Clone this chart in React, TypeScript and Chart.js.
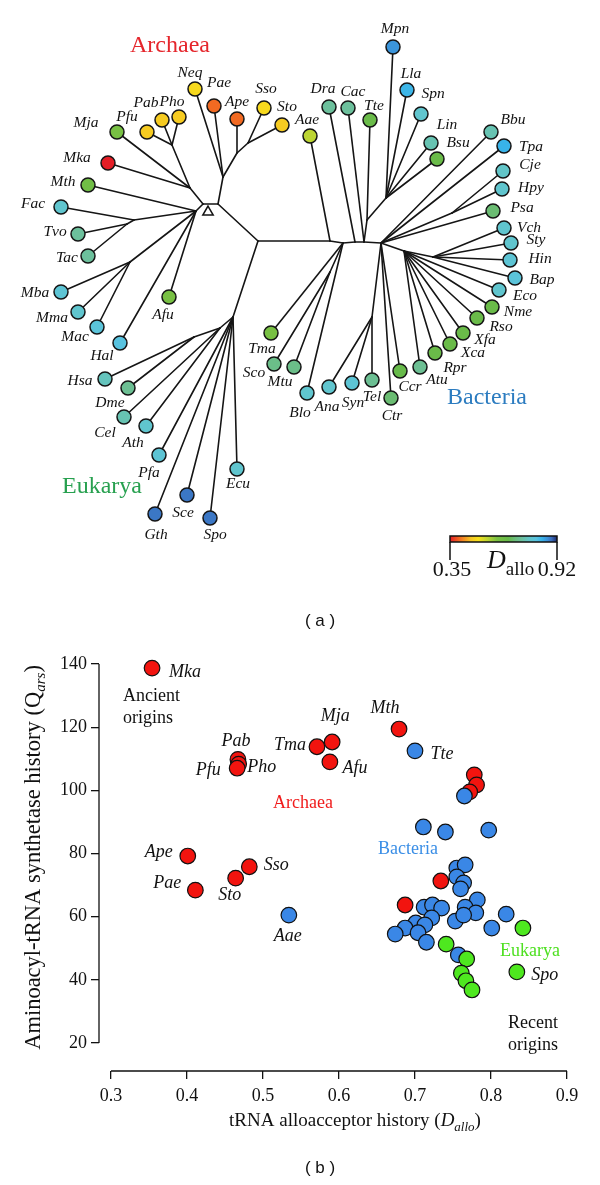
import React, { useEffect, useRef } from "react";
import { Chart, registerables } from "chart.js";
Chart.register(...registerables);

const SERIF = '"Liberation Serif", "DejaVu Serif", serif';
const SANS = '"Liberation Sans", Arial, sans-serif';

// ================= Panel (a): tree (layout units) =================
const leafNames = ["Neq","Pae","Ape","Sso","Sto","Pho","Pab","Pfu","Mja","Mka","Mth","Fac","Tvo","Tac","Mba","Mma","Mac","Hal","Afu",
  "Hsa","Dme","Cel","Ath","Pfa","Gth","Sce","Spo","Ecu",
  "Tma","Sco","Mtu","Blo","Ana","Syn","Tel","Ctr","Ccr","Atu","Rpr","Xca","Xfa","Rso","Nme","Eco","Bap","Hin","Sty","Vch","Psa","Hpy","Cje","Tpa","Bbu","Bsu","Lin","Spn","Lla","Mpn","Tte","Cac","Dra","Aae"];
const leafX = [195,214,237,264,282,179,162,147,117,108,88,61,78,88,61,78,97,120,169,
  105,128,124,146,159,155,187,210,237,
  271,274,294,307,329,352,372,391,400,420,435,450,463,477,492,499,515,510,511,504,493,502,503,504,491,437,431,421,407,393,370,348,329,310];
const leafY = [89,106,119,108,125,117,120,132,132,163,185,207,234,256,292,312,327,343,297,
  379,388,417,426,455,514,495,518,469,
  333,364,367,393,387,383,380,398,371,367,353,344,333,318,307,290,278,260,243,228,211,189,171,146,132,159,143,114,90,47,120,108,107,136];
const leafDallo = [0.49,0.40,0.40,0.49,0.47,0.47,0.47,0.47,0.61,0.35,0.63,0.78,0.73,0.73,0.79,0.78,0.80,0.81,0.61,
  0.76,0.72,0.75,0.78,0.79,0.885,0.885,0.885,0.78,
  0.61,0.71,0.71,0.78,0.78,0.79,0.72,0.69,0.66,0.72,0.65,0.65,0.65,0.65,0.65,0.78,0.80,0.79,0.78,0.78,0.69,0.78,0.77,0.84,0.75,0.65,0.75,0.78,0.835,0.865,0.65,0.73,0.73,0.55];
// label placement relative to each leaf (px)
const leafLabelDx = [-5,5,0,2,5,-7,-16,-20,-31,-31,-25,-28,-23,-21,-26,-26,-22,-18,-6,
  -25,-18,-19,-13,-10,1,-4,5,1,
  -9,-20,-14,-7,-2,1,0,1,10,17,20,23,22,24,26,26,27,30,25,25,29,29,27,27,22,21,16,12,4,2,4,5,-6,-3];
const leafLabelDy = [-16,-23,-17,-19,-18,-15,-17,-15,-9,-5,-3,-3,-2,2,1,6,10,13,18,
  2,15,16,17,18,21,18,17,15,
  16,9,15,20,20,20,17,18,16,13,15,9,7,9,5,6,2,-1,-3,0,-3,-1,-6,1,-12,-16,-18,-20,-16,-18,-14,-16,-18,-16];

const nodeNames = ["R","AT","AL","n1","nApe","n2","nL1","nPyro","Ac","nFac","nTT","nMM","E","nE1","nHD",
  "B1","B2","nAct","B3","B4","nTF","nFirm","B5","nEps","nProt","nEnt","nCy"];
const nodeX = [258,218,203,223,237,248,190,172,196,134,127,130,233,220,194,330,343,330,355,364,367,386,381,452,404,433,372];
const nodeY = [241,204,204,177,153,143,188,145,211,220,224,262,317,328,337,241,243,272,242,242,220,198,243,213,251,257,317];
const rootMarkX = [208];
const rootMarkY = [212];

const edgeParent = ["R","AT","AT","n1","n1","n1","nApe","nApe","n2","n2",
  "AL","nL1","nL1","nPyro","nPyro","nPyro","nL1",
  "AL","Ac","Ac","nFac","nFac","nTT","nTT","Ac","nMM","nMM","nMM","Ac","Ac",
  "R","E","nE1","nHD","nHD","nE1","nE1","E","E","E","E","E",
  "R","B1","B1","B2","B2","nAct","nAct","B2","B2","B3","B3","B4","B4","nTF","nTF","nFirm","nFirm","nFirm","nFirm","nFirm","B4",
  "B5","B5","B5","nEps","nEps","B5","B5","nProt","nEnt","nEnt","nEnt","nEnt","nProt","nProt","nProt","nProt","nProt","nProt","nProt","B5","B5","B5","nCy","nCy","nCy"];
const edgeChild = ["AT","AL","n1","Neq","Pae","nApe","Ape","n2","Sso","Sto",
  "nL1","Mja","nPyro","Pfu","Pab","Pho","Mka",
  "Ac","Mth","nFac","Fac","nTT","Tvo","Tac","nMM","Mba","Mma","Mac","Hal","Afu",
  "E","nE1","nHD","Hsa","Dme","Cel","Ath","Pfa","Gth","Sce","Spo","Ecu",
  "B1","Aae","B2","Tma","nAct","Sco","Mtu","Blo","B3","Dra","B4","Cac","nTF","Tte","nFirm","Mpn","Lla","Spn","Lin","Bsu","B5",
  "Bbu","Tpa","nEps","Cje","Hpy","Psa","nProt","nEnt","Vch","Sty","Hin","Bap","Eco","Nme","Rso","Xfa","Xca","Rpr","Atu","Ccr","Ctr","nCy","Ana","Syn","Tel"];

const treeTitleNames = ["Archaea", "Bacteria", "Eukarya"];
const treeTitleX = [170, 487, 102];
const treeTitleY = [46, 398, 487];
const treeTitleColors = ["#e5262c", "#2c7cc0", "#27a04f"];

// colour scale for D_allo
const cmapD = [0.35, 0.40, 0.46, 0.50, 0.55, 0.60, 0.66, 0.70, 0.73, 0.77, 0.81, 0.84, 0.87, 0.89, 0.92];
const cmapColors = ["#e41e26","#f26a22","#f5c423","#f7e01c","#bcd532","#7bc142","#67ba4a","#6bbd80","#6cc09c","#62c5c8","#58c3e0","#38b3ea","#3b8fd8","#3b6fbf","#1f2c6c"];
const cbarTicks = [0.35, 0.92];

// ================= Panel (b): scatter =================
const archaeaNames = ["Mka","Pab","Pho","Pfu","Tma","Mja","Afu","Mth","Ape","Sso","Sto","Pae","","","","",""];
const archaeaDallo = [0.354,0.467,0.468,0.466,0.571,0.591,0.588,0.679,0.401,0.482,0.464,0.411,0.778,0.781,0.772,0.734,0.687];
const archaeaQars = [138.7,109.8,108.3,107.0,113.8,115.3,109.0,119.4,79.2,75.8,72.2,68.4,104.9,101.7,99.5,71.3,63.7];

const bacteriaNames = ["Tte","Aae","","","","","","","","","","","","","","","","","","","","","","","","","","",""];
const bacteriaDallo = [0.700,0.534,0.765,0.711,0.740,0.797,0.755,0.766,0.755,0.764,0.760,0.782,0.766,0.780,0.712,0.723,0.735,0.722,0.753,0.764,0.701,0.713,0.687,0.674,0.704,0.715,0.801,0.820,0.757];
const bacteriaQars = [112.5,60.5,98.2,88.4,86.8,87.4,75.4,76.4,72.6,70.7,68.8,65.3,63.0,61.2,63.0,63.7,62.7,59.6,58.6,60.5,58.0,57.4,56.4,54.5,54.9,51.9,56.4,60.8,47.9];

const eukaryaNames = ["","","","Spo","","",""];
const eukaryaDallo = [0.741,0.768,0.842,0.834,0.761,0.767,0.775];
const eukaryaQars = [51.3,46.6,56.4,42.5,42.1,39.7,36.8];

const xTicks = [0.3, 0.4, 0.5, 0.6, 0.7, 0.8, 0.9];
const yTicks = [20, 40, 60, 80, 100, 120, 140];

// label offsets for named points (px)
const ptLabelNames = ["Mka","Pab","Pfu","Pho","Tma","Mja","Afu","Mth","Tte","Ape","Sso","Pae","Sto","Aae","Spo"];
const ptLabelDx = [33,-2,-29,23,-27,3,25,-14,27,-29,27,-28,-6,-1,28];
const ptLabelDy = [4,-18,2,3,-1,-26,6,-21,3,-4,-1,-7,17,21,3];

// annotations in data coordinates
const annoText = ["Archaea", "Bacteria", "Eukarya"];
const annoX = [0.5526, 0.6908, 0.8513];
const annoY = [96.0, 81.4, 49.1];
const annoColors = ["#f01c1c", "#3a8ee6", "#4ee021"];

// ---------- helpers ----------
function hexToRgb(h: string) {
  const v = parseInt(h.slice(1), 16);
  return [(v >> 16) & 255, (v >> 8) & 255, v & 255];
}
function dalloColor(d: number) {
  if (d <= cmapD[0]) return cmapColors[0];
  if (d >= cmapD[cmapD.length - 1]) return cmapColors[cmapColors.length - 1];
  let i = 0;
  while (d > cmapD[i + 1]) i++;
  const t = (d - cmapD[i]) / (cmapD[i + 1] - cmapD[i]);
  const a = hexToRgb(cmapColors[i]), b = hexToRgb(cmapColors[i + 1]);
  const c = a.map((v, k) => Math.round(v + (b[k] - v) * t));
  return `rgb(${c[0]},${c[1]},${c[2]})`;
}
type Part = { t: string; font: string; dy?: number };
function drawRich(ctx: CanvasRenderingContext2D, parts: Part[], x: number, y: number, align = "center") {
  ctx.save();
  ctx.textAlign = "left";
  ctx.textBaseline = "alphabetic";
  let w = 0;
  for (const p of parts) { ctx.font = p.font; w += ctx.measureText(p.t).width; }
  let cx = align === "center" ? x - w / 2 : align === "right" ? x - w : x;
  for (const p of parts) {
    ctx.font = p.font;
    ctx.fillText(p.t, cx, y + (p.dy || 0));
    cx += ctx.measureText(p.t).width;
  }
  ctx.restore();
}

function treeConfig(): any {
  const pos = new Map<string, { x: number; y: number }>();
  leafNames.forEach((n, i) => pos.set(n, { x: leafX[i], y: leafY[i] }));
  nodeNames.forEach((n, i) => pos.set(n, { x: nodeX[i], y: nodeY[i] }));
  const edgeSets = edgeParent.map((p, i) => ({
    data: [pos.get(p), pos.get(edgeChild[i])],
    showLine: true,
    borderColor: "#151515",
    borderWidth: 1.6,
    borderCapStyle: "round",
    pointRadius: 0,
    pointHoverRadius: 0,
    clip: false,
    order: 5,
  }));
  const leafSet = {
    data: leafNames.map((n, i) => ({ x: leafX[i], y: leafY[i] })),
    showLine: false,
    pointRadius: 7,
    pointBackgroundColor: leafDallo.map(dalloColor),
    pointBorderColor: "#151515",
    pointBorderWidth: 1.5,
    clip: false,
    order: 1,
  };
  const rootSet = {
    data: rootMarkX.map((x, i) => ({ x, y: rootMarkY[i] })),
    showLine: false,
    pointStyle: "triangle",
    pointRadius: 6,
    pointBackgroundColor: "#fff",
    pointBorderColor: "#151515",
    pointBorderWidth: 1.5,
    clip: false,
    order: 0,
  };
  const leafIndex = edgeSets.length;
  const decor = {
    id: "treeDecor",
    afterDatasetsDraw(chart: any) {
      const ctx: CanvasRenderingContext2D = chart.ctx;
      const xs = chart.scales.x, ys = chart.scales.y;
      const meta = chart.getDatasetMeta(leafIndex);
      ctx.save();
      ctx.fillStyle = "#111";
      ctx.font = `italic 15.5px ${SERIF}`;
      ctx.textAlign = "center";
      ctx.textBaseline = "middle";
      leafNames.forEach((n, i) => {
        const el = meta.data[i];
        ctx.fillText(n, el.x + leafLabelDx[i], el.y + leafLabelDy[i]);
      });
      ctx.font = `24px ${SERIF}`;
      treeTitleNames.forEach((t, i) => {
        ctx.fillStyle = treeTitleColors[i];
        ctx.fillText(t, xs.getPixelForValue(treeTitleX[i]), ys.getPixelForValue(treeTitleY[i]));
      });
      // colour bar
      const x0 = xs.getPixelForValue(450), x1 = xs.getPixelForValue(557);
      const y0 = ys.getPixelForValue(536), y1 = ys.getPixelForValue(542), yt = ys.getPixelForValue(560);
      const span = cbarTicks[1] - cbarTicks[0];
      const g = ctx.createLinearGradient(x0, 0, x1, 0);
      cmapD.forEach((d, i) => g.addColorStop((d - cbarTicks[0]) / span, cmapColors[i]));
      ctx.fillStyle = g;
      ctx.fillRect(x0, y0, x1 - x0, y1 - y0);
      ctx.strokeStyle = "#111";
      ctx.lineWidth = 1.5;
      ctx.strokeRect(x0, y0, x1 - x0, y1 - y0);
      ctx.beginPath();
      ctx.moveTo(x0, y1); ctx.lineTo(x0, yt);
      ctx.moveTo(x1, y1); ctx.lineTo(x1, yt);
      ctx.stroke();
      ctx.fillStyle = "#111";
      ctx.font = `22px ${SERIF}`;
      ctx.fillText(cbarTicks[0].toFixed(2), x0 + 2, ys.getPixelForValue(570));
      ctx.fillText(cbarTicks[1].toFixed(2), x1, ys.getPixelForValue(570));
      drawRich(ctx, [
        { t: "D", font: `italic 26px ${SERIF}` },
        { t: "allo", font: `19px ${SERIF}`, dy: 7 },
      ], xs.getPixelForValue(487), ys.getPixelForValue(568), "left");
      ctx.font = `17px ${SANS}`;
      ctx.fillText("( a )", xs.getPixelForValue(320), ys.getPixelForValue(621));
      ctx.restore();
    },
  };
  return {
    type: "scatter",
    data: { datasets: [...edgeSets, leafSet, rootSet] },
    options: {
      responsive: false,
      animation: false,
      devicePixelRatio: 1,
      events: [],
      layout: { padding: 0, autoPadding: false },
      plugins: { legend: { display: false }, tooltip: { enabled: false } },
      scales: {
        x: { type: "linear", min: 0, max: 600, display: false },
        y: { type: "linear", min: 0, max: 640, reverse: true, display: false },
      },
    },
    plugins: [decor],
  };
}

function scatterConfig(): any {
  const mk = (names: string[], xs: number[], ys: number[], color: string, order: number) => ({
    data: xs.map((x, i) => ({ x, y: ys[i] })),
    names,
    pointRadius: 7.8,
    pointBackgroundColor: color,
    pointBorderColor: "#111",
    pointBorderWidth: 1.2,
    showLine: false,
    clip: false,
    order,
  });
  const datasets = [
    mk(eukaryaNames, eukaryaDallo, eukaryaQars, "#4ee81f", 1),
    mk(bacteriaNames, bacteriaDallo, bacteriaQars, "#3a87e6", 2),
    mk(archaeaNames, archaeaDallo, archaeaQars, "#f2140f", 3),
  ];
  const tickFont = { family: SERIF, size: 18 };
  const decor = {
    id: "scatDecor",
    afterDatasetsDraw(chart: any) {
      const ctx: CanvasRenderingContext2D = chart.ctx;
      const xs = chart.scales.x, ys = chart.scales.y;
      const ca = chart.chartArea;
      ctx.save();
      // detached axis lines
      ctx.strokeStyle = "#111";
      ctx.lineWidth = 1.3;
      ctx.beginPath();
      ctx.moveTo(ca.left, ys.getPixelForValue(yTicks[0]));
      ctx.lineTo(ca.left, ys.getPixelForValue(yTicks[yTicks.length - 1]));
      ctx.moveTo(xs.getPixelForValue(xTicks[0]), ca.bottom);
      ctx.lineTo(xs.getPixelForValue(xTicks[xTicks.length - 1]), ca.bottom);
      ctx.stroke();
      // point labels
      ctx.fillStyle = "#111";
      ctx.font = `italic 18px ${SERIF}`;
      ctx.textAlign = "center";
      ctx.textBaseline = "middle";
      chart.data.datasets.forEach((ds: any, di: number) => {
        const meta = chart.getDatasetMeta(di);
        ds.names.forEach((n: string, i: number) => {
          const k = ptLabelNames.indexOf(n);
          if (!n || k < 0) return;
          const el = meta.data[i];
          ctx.fillText(n, el.x + ptLabelDx[k], el.y + ptLabelDy[k]);
        });
      });
      ctx.font = `18px ${SERIF}`;
      annoText.forEach((t, i) => {
        ctx.fillStyle = annoColors[i];
        ctx.fillText(t, xs.getPixelForValue(annoX[i]), ys.getPixelForValue(annoY[i]));
      });
      ctx.fillStyle = "#111";
      ctx.textAlign = "left";
      ctx.fillText("Ancient", xs.getPixelForValue(0.3158), ys.getPixelForValue(129.9));
      ctx.fillText("origins", xs.getPixelForValue(0.3158), ys.getPixelForValue(122.9));
      ctx.textAlign = "right";
      ctx.fillText("Recent", xs.getPixelForValue(0.8882), ys.getPixelForValue(26.3));
      ctx.fillText("origins", xs.getPixelForValue(0.8882), ys.getPixelForValue(19.4));
      // axis titles
      drawRich(ctx, [
        { t: "tRNA alloacceptor history (", font: `19px ${SERIF}` },
        { t: "D", font: `italic 19px ${SERIF}` },
        { t: "allo", font: `italic 13px ${SERIF}`, dy: 5 },
        { t: ")", font: `19px ${SERIF}` },
      ], 355, ca.bottom + 55, "center");
      ctx.save();
      ctx.translate(40, (ys.getPixelForValue(20) + ys.getPixelForValue(140)) / 2 + 4);
      ctx.rotate(-Math.PI / 2);
      drawRich(ctx, [
        { t: "Aminoacyl-tRNA synthetase history (Q", font: `22.5px ${SERIF}` },
        { t: "ars", font: `italic 15px ${SERIF}`, dy: 5 },
        { t: ")", font: `22.5px ${SERIF}` },
      ], 0, 0, "center");
      ctx.restore();
      ctx.font = `17px ${SANS}`;
      ctx.textAlign = "center";
      ctx.fillText("( b )", 320, ca.bottom + 97);
      ctx.restore();
    },
  };
  return {
    type: "scatter",
    data: { datasets },
    options: {
      responsive: false,
      animation: false,
      devicePixelRatio: 1,
      events: [],
      layout: { padding: { top: 24, right: 33, left: 0, bottom: 0 }, autoPadding: false },
      plugins: { legend: { display: false }, tooltip: { enabled: false } },
      scales: {
        x: {
          type: "linear",
          min: 0.3 - 12 / 760,
          max: 0.9,
          afterFit: (s: any) => { s.height = 114; },
          afterBuildTicks: (s: any) => { s.ticks = xTicks.map((v) => ({ value: v })); },
          grid: { drawOnChartArea: false, drawTicks: true, tickLength: 8, color: "#111", lineWidth: 1.3 },
          border: { display: false },
          ticks: { color: "#111", font: tickFont, padding: 6, maxRotation: 0, autoSkip: false, callback: (v: number) => v.toFixed(1) },
        },
        y: {
          type: "linear",
          min: 20 - 28 / 3.158,
          max: 140,
          afterFit: (s: any) => { s.width = 99; },
          afterBuildTicks: (s: any) => { s.ticks = yTicks.map((v) => ({ value: v })); },
          grid: { drawOnChartArea: false, drawTicks: true, tickLength: 8, color: "#111", lineWidth: 1.3 },
          border: { display: false },
          ticks: { color: "#111", font: tickFont, padding: 4, autoSkip: false, callback: (v: number) => String(v) },
        },
      },
    },
    plugins: [decor],
  };
}

export default function App() {
  const treeRef = useRef<HTMLCanvasElement>(null);
  const scatRef = useRef<HTMLCanvasElement>(null);
  useEffect(() => {
    const c1 = new Chart(treeRef.current as HTMLCanvasElement, treeConfig());
    const c2 = new Chart(scatRef.current as HTMLCanvasElement, scatterConfig());
    return () => { c1.destroy(); c2.destroy(); };
  }, []);
  return (
    <div style={{ position: "absolute", left: 0, top: 0, width: 600, height: 1185, background: "#fff" }}>
      <canvas ref={treeRef} width={600} height={640} style={{ position: "absolute", left: 0, top: 0, width: 600, height: 640 }} />
      <canvas ref={scatRef} width={600} height={545} style={{ position: "absolute", left: 0, top: 640, width: 600, height: 545 }} />
    </div>
  );
}
